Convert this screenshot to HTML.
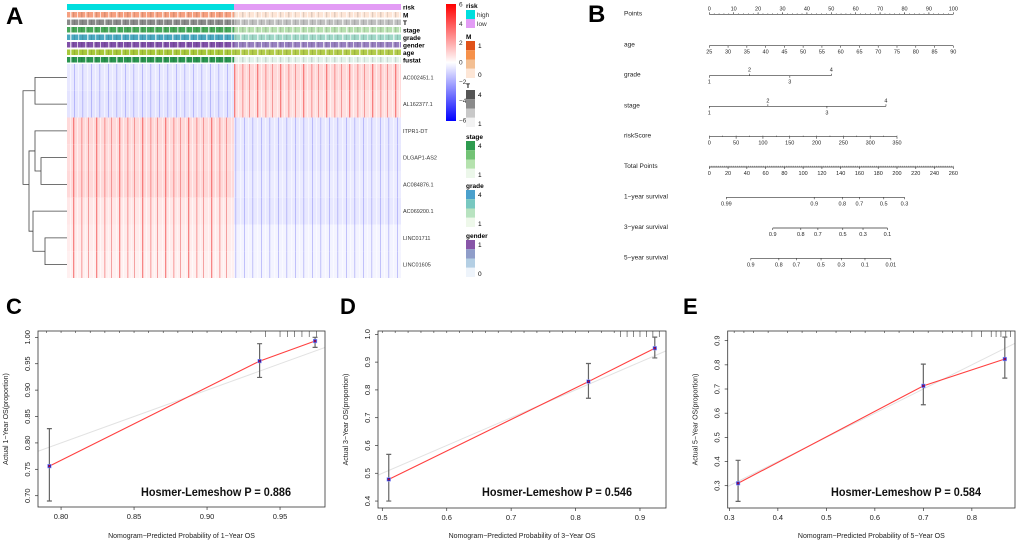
<!DOCTYPE html>
<html><head><meta charset="utf-8"><style>
html,body{margin:0;padding:0;background:#fff;}
svg{display:block;font-family:"Liberation Sans",Arial,sans-serif;}
</style></head><body>
<svg id="fig" width="1020" height="546" viewBox="0 0 1020 546" xmlns="http://www.w3.org/2000/svg">
<defs>
<linearGradient id="cbar" x1="0" y1="1" x2="0" y2="0">
<stop offset="0" stop-color="#0000ff"/><stop offset="0.5" stop-color="#ffffff"/><stop offset="1" stop-color="#ff0000"/>
</linearGradient>
<pattern id="redS" width="23" height="10" patternUnits="userSpaceOnUse">
<rect x="1" width="1" height="10" fill="#fff" opacity="0.5"/><rect x="4" width="1.3" height="10" fill="#f03030" opacity="0.55"/>
<rect x="8" width="1" height="10" fill="#fff" opacity="0.6"/><rect x="12" width="1.5" height="10" fill="#f04545" opacity="0.35"/>
<rect x="16" width="1" height="10" fill="#fff" opacity="0.4"/><rect x="19" width="1" height="10" fill="#e84040" opacity="0.45"/>
</pattern>
<pattern id="blueS" width="17" height="10" patternUnits="userSpaceOnUse">
<rect x="2" width="1.2" height="10" fill="#fff" opacity="0.55"/><rect x="6" width="1" height="10" fill="#6060f0" opacity="0.35"/>
<rect x="10" width="1" height="10" fill="#fff" opacity="0.5"/><rect x="14" width="1.3" height="10" fill="#7070f0" opacity="0.3"/>
</pattern>
<pattern id="stripes" width="23" height="10" patternUnits="userSpaceOnUse">
<rect x="1" width="1.5" height="10" fill="#fff" opacity="0.7"/><rect x="4" width="1.2" height="10" fill="#000" opacity="0.12"/>
<rect x="8" width="1" height="10" fill="#fff" opacity="0.7"/><rect x="12" width="1.5" height="10" fill="#000" opacity="0.12"/>
<rect x="16" width="1.5" height="10" fill="#fff" opacity="0.6"/><rect x="19" width="1" height="10" fill="#000" opacity="0.1"/>
</pattern>
<pattern id="stripes2" width="17" height="10" patternUnits="userSpaceOnUse">
<rect x="2" width="1.5" height="10" fill="#fff" opacity="0.7"/><rect x="6" width="1" height="10" fill="#000" opacity="0.12"/>
<rect x="10" width="1.2" height="10" fill="#fff" opacity="0.6"/><rect x="14" width="1.3" height="10" fill="#000" opacity="0.12"/>
</pattern>
</defs>
<g id="panelA"></g>
<g id="panelB"></g>
<g id="panelC"></g>
<g id="panelD"></g>
<g id="panelE"></g>
</svg>
<script>
// ---------- Panel A data ----------
const genes = ["AC002451.1","AL162377.1","ITPR1-DT","DLGAP1-AS2","AC084876.1","AC069200.1","LINC01711","LINC01605"];
const highMean = [-0.6,-0.7,1.0,0.9,1.0,0.6,0.5,0.4];
const lowMean = [1.0,0.8,-0.6,-0.6,-0.5,-0.6,-0.3,-0.3];
const annoNames = ["risk","M","T","stage","grade","gender","age","fustat"];
const annoHigh = ["#00dede","#f6a080","#8a8a8a","#48a85a","#4aa8c0","#8050a8","#a8c83a","#2a9550"];
const annoLow = ["#e39cf5","#fde5d6","#c0c0c0","#b8e0b0","#a0d8c8","#9880c0","#b2cc4a","#e2f2ea"];
const cbTicks = [6,4,2,0,-2,-4,-6];

// ---------- Panel B data ----------
const nomoRows = ["Points","age","grade","stage","riskScore","Total Points","1\u2212year survival","3\u2212year survival","5\u2212year survival"];
const pointsTicks = [0,10,20,30,40,50,60,70,80,90,100];
const ageTicks = [25,30,35,40,45,50,55,60,65,70,75,80,85,90];
const gradePts = [0,16.5,33,50];
const stagePts = [0,24,48.2,72.4];
const riskTicks = [0,50,100,150,200,250,300,350];
const totalTicks = [0,20,40,60,80,100,120,140,160,180,200,220,240,260];
const surv1Labels = ["0.99","0.9","0.8","0.7","0.5","0.3"];
const surv1Total = [7,43,54.5,61.5,71.5,80];
const surv3Labels = ["0.9","0.8","0.7","0.5","0.3","0.1"];
const surv3Total = [26,37.5,44.5,54.7,63,73];
const surv5Labels = ["0.9","0.8","0.7","0.5","0.3","0.1","0.01"];
const surv5Total = [17,28.5,35.7,45.8,54.1,63.8,74.4];

// ---------- Calibration data ----------
const predC = [0.792,0.936,0.974], obsC = [0.756,0.955,0.993], loC = [0.690,0.924,0.981], hiC = [0.827,0.988,1.0];
const predD = [0.510,0.820,0.923], obsD = [0.478,0.830,0.950], loD = [0.400,0.770,0.915], hiD = [0.568,0.895,0.990];
const predE = [0.318,0.700,0.868], obsE = [0.310,0.713,0.824], loE = [0.235,0.635,0.745], hiE = [0.405,0.803,0.915];
const xTicksC = [0.80,0.85,0.90,0.95], yTicksC = [0.70,0.75,0.80,0.85,0.90,0.95,1.00];
const xTicksD = [0.5,0.6,0.7,0.8,0.9], yTicksD = [0.4,0.5,0.6,0.7,0.8,0.9,1.0];
const xTicksE = [0.3,0.4,0.5,0.6,0.7,0.8], yTicksE = [0.3,0.4,0.5,0.6,0.7,0.8,0.9];
const rugC = [0.79,0.80,0.81,0.82,0.83,0.84,0.85,0.86,0.87,0.88,0.89,0.90,0.91,0.92,0.93,0.94,0.95,0.955,0.96,0.965,0.97,0.975];
const rugD = [0.50,0.52,0.54,0.56,0.58,0.60,0.62,0.64,0.66,0.68,0.70,0.72,0.74,0.76,0.78,0.80,0.82,0.84,0.86,0.87,0.88,0.89,0.90,0.91,0.92,0.93];
const rugE = [0.31,0.33,0.35,0.38,0.42,0.45,0.48,0.52,0.55,0.58,0.62,0.65,0.68,0.71,0.74,0.76,0.78,0.80,0.82,0.84,0.85,0.86,0.87,0.88];

const NS="http://www.w3.org/2000/svg";
function mk(parent,tag,attrs,text){const e=document.createElementNS(NS,tag);for(const k in attrs)e.setAttribute(k,attrs[k]);if(text!==undefined)e.textContent=text;parent.appendChild(e);return e;}
function colorFor(v){const t=Math.max(-1,Math.min(1,v/6));let r,g,b;if(t>=0){r=255;g=Math.round(255*(1-t));b=g;}else{b=255;r=Math.round(255*(1+t));g=r;}return `rgb(${r},${g},${b})`;}
function tint(v){const t=Math.max(-1,Math.min(1,v/3))*0.45;return colorFor(t*6);}

// ---------- Panel A ----------
(function(){
 const g=document.getElementById('panelA');
 let t=mk(g,'text',{x:6,y:24,'font-size':24,'font-weight':'bold'},'A');
 
 const x0=67,x1=401,xm=234,hy0=64,hy1=278,rh=(hy1-hy0)/genes.length;
 const annoY=[4,12,19.5,27,34.5,42,49.5,57], annoH=[6,5.5,5.5,5.5,5.5,5.5,5.5,5.5];
 annoNames.forEach((n,i)=>{
  let r=mk(g,'rect',{x:x0,y:annoY[i],width:xm-x0,height:annoH[i],fill:annoHigh[i]});
  
  let r2=mk(g,'rect',{x:xm,y:annoY[i],width:x1-xm,height:annoH[i],fill:annoLow[i]});
  
  if(i>0){mk(g,'rect',{x:x0,y:annoY[i],width:x1-x0,height:annoH[i],fill:i%2?'url(#stripes)':'url(#stripes2)'});}
  let l=mk(g,'text',{x:403,y:annoY[i]+5.5,'font-size':6.5,'font-weight':'bold'},n);
  
 });
 genes.forEach((gn,i)=>{
  const y=hy0+i*rh;
  let a=mk(g,'rect',{x:x0,y:y,width:xm-x0,height:rh,fill:tint(highMean[i])});
  
  mk(g,'rect',{x:x0,y:y,width:xm-x0,height:rh,fill:highMean[i]>0?'url(#redS)':'url(#blueS)'});
  let b=mk(g,'rect',{x:xm,y:y,width:x1-xm,height:rh,fill:tint(lowMean[i])});
  
  mk(g,'rect',{x:xm,y:y,width:x1-xm,height:rh,fill:lowMean[i]>0?'url(#redS)':'url(#blueS)'});
  let l=mk(g,'text',{x:403,y:y+rh/2+2,'font-size':5.5,fill:'#333'},gn);
  
 });
 const rc=i=>hy0+(i+0.5)*rh;
 const d=mk(g,'path',{fill:'none',stroke:'#444','stroke-width':0.8,d:
  `M67 ${rc(0)}H35V${rc(1)}H67 M67 ${rc(3)}H41V${rc(4)}H67 M67 ${rc(2)}H35V${(rc(3)+rc(4))/2}H41 M67 ${rc(5)}H33V${(rc(6)+rc(7))/2}H45 M67 ${rc(6)}H45V${rc(7)}H67 M35 ${(rc(2)+(rc(3)+rc(4))/2)/2}H29V${((rc(5)+(rc(6)+rc(7))/2)/2)}H33 M35 ${(rc(0)+rc(1))/2}H23V${(rc(2)+rc(6))/2}H29`});
 
 let cb=mk(g,'rect',{x:446,y:4,width:10,height:117,fill:'url(#cbar)'});
 
 cbTicks.forEach(v=>{const y=62.5-v*9.65;let tt=mk(g,'text',{x:459,y:y+2,'font-size':6.5,fill:'#333'},v<0?'\u2212'+(-v):String(v));});
 const legs=[{t:'risk',y:6,c:['#00dede','#e39cf5'],lab:['high','low'],h:9},
  {t:'M',y:37,c:['#e0521a','#f6914a','#f3bf93','#fde6d6'],lab:['1','0'],h:9.25},
  {t:'T',y:86,c:['#555','#8a8a8a','#c8c8c8','#f2f2f2'],lab:['4','1'],h:9.25},
  {t:'stage',y:137,c:['#2e9b4f','#73c375','#b5e2ae','#ecf7ea'],lab:['4','1'],h:9.25},
  {t:'grade',y:186,c:['#4aa0cc','#78c8c0','#b8e3c0','#eef8ea'],lab:['4','1'],h:9.25},
  {t:'gender',y:236,c:['#8856a8','#8f9dc9','#b4cfe4','#eef4fb'],lab:['1','0'],h:9.25}];
 legs.forEach(L=>{
  let tt=mk(g,'text',{x:466,y:L.y+2,'font-size':6.5,'font-weight':'bold'},L.t);
  
  L.c.forEach((c,i)=>{let r=mk(g,'rect',{x:466,y:L.y+4+i*L.h,width:9,height:L.h,fill:c});});
  if(L.t==='risk'){L.lab.forEach((s,i)=>{let e=mk(g,'text',{x:477,y:L.y+11+i*9,'font-size':6.5,fill:'#333'},s);});}
  else{let e1=mk(g,'text',{x:478,y:L.y+11,'font-size':6.5},L.lab[0]);
   let e2=mk(g,'text',{x:478,y:L.y+40,'font-size':6.5},L.lab[1]);}
 });
})();

// ---------- Panel B ----------
(function(){
 const g=document.getElementById('panelB');
 let t=mk(g,'text',{x:588,y:22,'font-size':24,'font-weight':'bold'},'B');
 
 const px=p=>709.3+p*2.44; const tx=tp=>709.3+tp*(953.3-709.3)/260;
 const rowY=[14.3,45.7,75.7,106.3,136.7,167,197.3,228,258.3];
 nomoRows.forEach((n,i)=>{let l=mk(g,'text',{x:624,y:rowY[i]+1,'font-size':6.5,fill:'#222'},n);});
 function axis(y,xs,labs,above,alt,minor){
  const a=mk(g,'line',{x1:xs[0],x2:xs[xs.length-1],y1:y,y2:y,stroke:'#333','stroke-width':0.7});
  
  xs.forEach((x,i)=>{
   const up=alt?(i%2===1):above;
   mk(g,'line',{x1:x,x2:x,y1:y,y2:up?y-2:y+2,stroke:'#333','stroke-width':0.6});
   let l=mk(g,'text',{x:x,y:up?y-4:y+8,'font-size':5.5,'text-anchor':'middle',fill:'#222'},labs[i]);
   
  });
  if(minor){for(let k=0;k<minor.n;k++){const x=xs[0]+(xs[xs.length-1]-xs[0])*k/(minor.n-1);mk(g,'line',{x1:x,x2:x,y1:y,y2:minor.up?y-1.2:y+1.2,stroke:'#333','stroke-width':0.4});}}
 }
 axis(rowY[0],pointsTicks.map(px),pointsTicks.map(String),true,false,{n:51,up:true});
 axis(rowY[1],ageTicks.map(a=>709.3+(a-25)*(244/65)),ageTicks.map(String),false);
 axis(rowY[2],gradePts.map(px),["1","2","3","4"],false,true);
 axis(rowY[3],stagePts.map(px),["1","2","3","4"],false,true);
 axis(rowY[4],riskTicks.map(r=>709.3+r*(187.7/350)),riskTicks.map(String),false,false,{n:15,up:true});
 axis(rowY[5],totalTicks.map(tx),totalTicks.map(String),false,false,{n:131,up:true});
 axis(rowY[6],surv1Total.map(px),surv1Labels,false);
 axis(rowY[7],surv3Total.map(px),surv3Labels,false);
 axis(rowY[8],surv5Total.map(px),surv5Labels,false);
})();

// ---------- Calibration panels ----------
function calib(id,letter,lx,box,xr,yr,xt,yt,pred,obs,lo,hi,rug,pText,year,dec){
 const g=document.getElementById(id);
 const sx=v=>box.x0+(v-xr[0])/(xr[1]-xr[0])*(box.x1-box.x0);
 const sy=v=>box.y1-(v-yr[0])/(yr[1]-yr[0])*(box.y1-box.y0);
 let t=mk(g,'text',{x:lx,y:314,'font-size':22,'font-weight':'bold'},letter);
 
 const cp=mk(g,'clipPath',{id:'clip'+id});mk(cp,'rect',{x:box.x0,y:box.y0,width:box.x1-box.x0,height:box.y1-box.y0});
 let il=mk(g,'line',{x1:sx(xr[0]),y1:sy(xr[0]),x2:sx(xr[1]),y2:sy(xr[1]),stroke:'#e2e2e2','stroke-width':1,'clip-path':`url(#clip${id})`});
 
 rug.forEach((v,i)=>{const len=i>rug.length-8?6:2;let r=mk(g,'line',{x1:sx(v),x2:sx(v),y1:box.y0,y2:box.y0+len,stroke:'#555','stroke-width':0.7});});
 let pl=mk(g,'polyline',{points:pred.map((p,i)=>sx(p)+','+sy(obs[i])).join(' '),fill:'none',stroke:'#ff4040','stroke-width':1.1});
 
 pred.forEach((p,i)=>{
  const x=sx(p);
  let e=mk(g,'path',{d:`M${x} ${sy(lo[i])}V${sy(hi[i])}M${x-2.5} ${sy(lo[i])}H${x+2.5}M${x-2.5} ${sy(hi[i])}H${x+2.5}`,stroke:'#666','stroke-width':1.2,fill:'none'});
  
  let m=mk(g,'rect',{x:x-1.8,y:sy(obs[i])-1.8,width:3.6,height:3.6,fill:'#2020b0',stroke:'#9aa0ff','stroke-width':0.6});
  
  mk(g,'circle',{cx:x,cy:sy(obs[i]),r:0.9,fill:'#d00020'});
 });
 let bx=mk(g,'rect',{x:box.x0,y:box.y0,width:box.x1-box.x0,height:box.y1-box.y0,fill:'none',stroke:'#333','stroke-width':0.8});
 
 xt.forEach(v=>{mk(g,'line',{x1:sx(v),x2:sx(v),y1:box.y1,y2:box.y1+3,stroke:'#333','stroke-width':0.7});
  let l=mk(g,'text',{x:sx(v),y:box.y1+12,'font-size':7.5,'text-anchor':'middle',fill:'#222'},v.toFixed(dec));});
 yt.forEach(v=>{mk(g,'line',{x1:box.x0-3,x2:box.x0,y1:sy(v),y2:sy(v),stroke:'#333','stroke-width':0.7});
  let l=mk(g,'text',{x:box.x0-8,y:sy(v),'font-size':7.5,'text-anchor':'middle',fill:'#222',transform:`rotate(-90 ${box.x0-8} ${sy(v)})`},v.toFixed(dec));});
 const cx=(box.x0+box.x1)/2;
 let xl=mk(g,'text',{x:cx,y:538,'font-size':7,'text-anchor':'middle',fill:'#222'},`Nomogram\u2212Predicted Probability of ${year}\u2212Year OS`);
 
 const yx=box.x0-30,yy=(box.y0+box.y1)/2;
 let yl=mk(g,'text',{x:yx,y:yy,'font-size':7,'text-anchor':'middle',fill:'#222',transform:`rotate(-90 ${yx} ${yy})`},`Actual ${year}\u2212Year OS(proportion)`);
 
 let hl=mk(g,'text',{x:box.x1-184,y:496,'font-size':11.5,'font-weight':'bold',textLength:150,lengthAdjust:'spacingAndGlyphs',fill:'#111'},'Hosmer-Lemeshow  P = '+pText);
 
}
calib('panelC','C',6,{x0:38,x1:325,y0:331,y1:507},[0.7842,0.9808],[0.6786,1.012],xTicksC,yTicksC,predC,obsC,loC,hiC,rugC,'0.886',1,2);
calib('panelD','D',340,{x0:378,x1:666,y0:331,y1:508},[0.4933,0.9404],[0.375,1.012],xTicksD,yTicksD,predD,obsD,loD,hiD,rugD,'0.546',3,1);
calib('panelE','E',683,{x0:727.7,x1:1015,y0:331,y1:508},[0.2966,0.889],[0.2077,0.94],xTicksE,yTicksE,predE,obsE,loE,hiE,rugE,'0.584',5,1);
</script>
</body></html>
